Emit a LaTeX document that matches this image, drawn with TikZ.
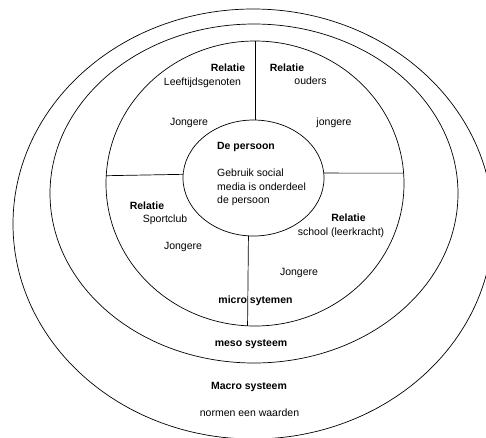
\documentclass[tikz,border=0pt]{standalone}
\usepackage{fontspec}
\setmainfont{Liberation Sans}
\usetikzlibrary{shapes.geometric}
\begin{document}
\begin{tikzpicture}[x=1pt,y=-1pt,
  ring/.style={draw=black, line width=0.7pt, ellipse, inner sep=0pt, outer sep=0pt},
  lbl/.style={font=\fontsize{10.5}{12.6}\selectfont, inner sep=0pt, text height=7.6pt, text depth=2.2pt, text=black},
  blbl/.style={lbl, font=\fontsize{10.5}{12.6}\selectfont\bfseries},
  para/.style={font=\fontsize{10.5}{13.4}\selectfont, inner sep=0pt, align=left, text=black},
  divider/.style={draw=black, line width=0.7pt}]
\useasboundingbox (0,0) rectangle (486,437);
\begin{scope}
\clip (0,0) rectangle (486,437);
\node[ring, minimum width=480pt, minimum height=430pt] (macro) at (253,224) {};
\end{scope}
\node[ring, minimum width=408pt, minimum height=339pt] (meso) at (254,193.5) {};
\node[ring, minimum width=298pt, minimum height=285pt] (micro) at (255,183.5) {};
\node[ring, minimum width=141pt, minimum height=116pt] (inner) at (253.5,178) {};
% dividers
\draw[divider] (micro.north) -- (micro.north |- inner.north);
\draw[divider] (inner.177) -- (micro.177);
\draw[divider] (inner.4) -- (micro.4);
\draw[divider] (inner.265) -- (micro.267);
% labels
\node[blbl] (rel1) at (228,69) {Relatie};
\node[lbl] (leeft) at (202.5,83) {Leeftijdsgenoten};
\node[blbl] (rel2) at (287,69) {Relatie};
\node[lbl] (ouders) at (310.5,82) {ouders};
\node[lbl] (jong1) at (189,123) {Jongere};
\node[lbl] (jong2) at (334,122.5) {jongere};
\node[blbl] (pers) at (246,147) {De persoon};
\node[para, anchor=west] (gebruik) at (217,187.3) {Gebruik social\\media is onderdeel\\de persoon};
\node[blbl] (rel3) at (147,207) {Relatie};
\node[lbl] (sport) at (165,220) {Sportclub};
\node[lbl] (jong3) at (183,247) {Jongere};
\node[blbl] (rel4) at (348.5,219) {Relatie};
\node[lbl] (school) at (341,233) {school (leerkracht)};
\node[lbl] (jong4) at (299,273) {Jongere};
\node[blbl] (microlbl) at (255.5,300.7) {micro sytemen};
\node[blbl] (mesolbl) at (251,344) {meso systeem};
\node[blbl] (macrolbl) at (249,387) {Macro systeem};
\node[lbl] (normen) at (249.5,414) {normen een waarden};
\end{tikzpicture}
\end{document}
